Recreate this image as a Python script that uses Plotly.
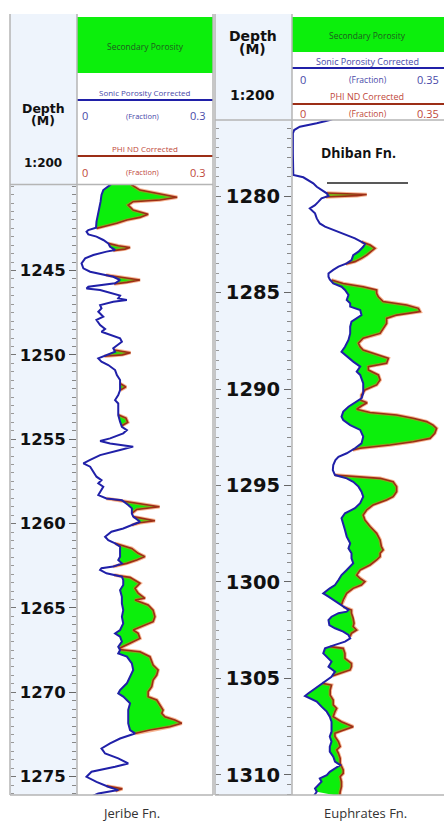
import plotly.graph_objects as go

W, H = 444, 823
def X(px): return px / W
def Y(py): return 1 - py / H

# ---------------- DATA ----------------
# Jeribe Fn. (left track)
jer_sonic_depth = [1239.80, 1239.93, 1240.23, 1240.52, 1240.92, 1241.31, 1241.71, 1242.10, 1242.46, 1242.60,
    1242.70, 1242.86, 1242.99, 1243.19, 1243.39, 1243.59, 1243.78, 1243.88, 1244.08, 1244.28,
    1244.58, 1244.87, 1245.07, 1245.23, 1245.37, 1245.56, 1245.76, 1245.96, 1246.06, 1246.16,
    1246.35, 1246.49, 1246.65, 1246.75, 1246.85, 1247.05, 1247.24, 1247.44, 1247.74, 1247.93,
    1248.23, 1248.47, 1248.63, 1248.82, 1249.02, 1249.22, 1249.42, 1249.61, 1249.81, 1250.01,
    1250.21, 1250.40, 1250.60, 1250.90, 1251.20, 1251.49, 1251.79, 1252.09, 1252.38, 1252.68,
    1252.88, 1253.17, 1253.57, 1253.96, 1254.26, 1254.46, 1254.65, 1254.95, 1255.11, 1255.25,
    1255.44, 1255.64, 1255.94, 1256.23, 1256.43, 1256.63, 1256.92, 1257.22, 1257.42, 1257.62,
    1257.82, 1258.01, 1258.31, 1258.51, 1258.61, 1258.90, 1259.10, 1259.40, 1259.59, 1259.89,
    1260.09, 1260.29, 1260.48, 1260.78, 1260.98, 1261.17, 1261.37, 1261.67, 1261.96, 1262.16,
    1262.36, 1262.55, 1262.65, 1262.75, 1262.95, 1263.15, 1263.35, 1263.64, 1263.94, 1264.34,
    1264.73, 1265.13, 1265.52, 1265.92, 1266.31, 1266.51, 1266.71, 1267.00, 1267.30, 1267.50,
    1267.70, 1267.89, 1268.29, 1268.68, 1269.08, 1269.47, 1269.87, 1270.07, 1270.26, 1270.66,
    1271.05, 1271.45, 1271.85, 1272.24, 1272.44, 1272.74, 1273.03, 1273.33, 1273.63, 1273.92,
    1274.22, 1274.42, 1274.71, 1275.01, 1275.31, 1275.60, 1275.80, 1276.00, 1276.20]
jer_sonic_value = [0.078, 0.073, 0.058, 0.054, 0.052, 0.049, 0.045, 0.043, 0.042, 0.025,
    0.021, 0.025, 0.043, 0.058, 0.069, 0.073, 0.084, 0.065, 0.036, 0.018,
    0.010, 0.014, 0.029, 0.058, 0.080, 0.095, 0.084, 0.025, 0.021, 0.051,
    0.080, 0.095, 0.091, 0.110, 0.080, 0.051, 0.054, 0.047, 0.058, 0.043,
    0.051, 0.062, 0.054, 0.076, 0.095, 0.099, 0.088, 0.080, 0.084, 0.065,
    0.047, 0.054, 0.069, 0.084, 0.088, 0.095, 0.095, 0.095, 0.091, 0.084,
    0.091, 0.091, 0.091, 0.095, 0.099, 0.110, 0.102, 0.073, 0.051, 0.073,
    0.124, 0.095, 0.051, 0.029, 0.014, 0.029, 0.036, 0.043, 0.054, 0.047,
    0.058, 0.054, 0.047, 0.065, 0.099, 0.113, 0.121, 0.121, 0.124, 0.139,
    0.121, 0.102, 0.076, 0.062, 0.069, 0.084, 0.095, 0.095, 0.095, 0.091,
    0.099, 0.080, 0.054, 0.051, 0.065, 0.099, 0.102, 0.102, 0.095, 0.099,
    0.099, 0.102, 0.099, 0.102, 0.095, 0.084, 0.095, 0.099, 0.091, 0.095,
    0.091, 0.110, 0.121, 0.124, 0.117, 0.110, 0.095, 0.091, 0.102, 0.117,
    0.113, 0.113, 0.113, 0.117, 0.128, 0.095, 0.073, 0.054, 0.062, 0.091,
    0.113, 0.084, 0.032, 0.021, 0.043, 0.069, 0.091, 0.047, 0.030]
# PHI ND (red) only where it departs from the sonic curve; None separates intervals
jer_phind_depth = [1239.80, 1239.93, 1240.23, 1240.52, 1240.66, 1240.82, 1240.92, 1241.12, 1241.41, 1241.67,
    1241.85, 1242.01, 1242.20, 1242.40, 1242.50, None,
    1243.39, 1243.53, 1243.63, 1243.73, 1243.82, None,
    1245.27, 1245.43, 1245.56, 1245.70, 1245.80, None,
    1249.71, 1249.87, 1250.00, 1250.08, None,
    1251.70, 1251.90, 1252.10, None,
    1253.55, 1253.75, 1254.00, 1254.20, None,
    1258.51, 1258.80, 1259.00, 1259.16, 1259.40, None,
    1259.59, 1259.83, 1259.95, 1260.09, None,
    1261.17, 1261.47, 1261.76, 1261.96, 1262.16, 1262.36, 1262.55, None,
    1263.05, 1263.19, 1263.54, 1263.84, 1264.13, 1264.43, 1264.53, 1264.83, 1265.13, 1265.52,
    1265.82, 1266.02, 1266.31, 1266.51, 1266.81, 1267.10, 1267.40, None,
    1267.46, 1267.60, 1267.89, 1268.19, 1268.39, 1268.68, 1268.98, 1269.28, 1269.67, 1269.97,
    1270.26, 1270.46, 1270.76, 1271.05, 1271.25, 1271.45, 1271.64, 1271.84, 1272.04, 1272.24,
    1272.44, None,
    1275.55, 1275.72, 1275.85]
jer_phind_value = [0.118, 0.121, 0.139, 0.198, 0.221, 0.183, 0.124, 0.113, 0.124, 0.157,
    0.139, 0.110, 0.088, 0.058, 0.043, None,
    0.069, 0.091, 0.117, 0.106, 0.080, None,
    0.064, 0.110, 0.139, 0.110, 0.082, None,
    0.082, 0.118, 0.100, 0.060, None,
    0.095, 0.108, 0.095, None,
    0.091, 0.108, 0.112, 0.099, None,
    0.065, 0.139, 0.182, 0.132, 0.121, None,
    0.124, 0.172, 0.139, 0.121, None,
    0.084, 0.121, 0.135, 0.150, 0.132, 0.110, 0.080, None,
    0.082, 0.117, 0.139, 0.128, 0.135, 0.150, 0.128, 0.157, 0.168, 0.172,
    0.168, 0.150, 0.124, 0.135, 0.139, 0.117, 0.093, None,
    0.094, 0.139, 0.161, 0.165, 0.168, 0.179, 0.176, 0.168, 0.165, 0.157,
    0.157, 0.176, 0.183, 0.190, 0.187, 0.194, 0.216, 0.231, 0.205, 0.161,
    0.128, None,
    0.065, 0.100, 0.085]

# Euphrates Fn. (right track)
eup_sonic_depth = [1276.00, 1276.06, 1276.23, 1276.41, 1276.58, 1276.75, 1277.79, 1278.91, 1279.03, 1279.17,
    1279.34, 1279.52, 1279.69, 1279.86, 1280.00, 1280.12, 1280.29, 1280.47, 1280.64, 1280.73,
    1280.90, 1281.16, 1281.42, 1281.59, 1281.85, 1282.02, 1282.19, 1282.37, 1282.49, 1282.63,
    1282.88, 1283.06, 1283.32, 1283.49, 1283.66, 1283.83, 1284.01, 1284.18, 1284.32, 1284.53,
    1284.70, 1284.87, 1285.13, 1285.39, 1285.56, 1285.73, 1285.91, 1286.17, 1286.34, 1286.51,
    1286.77, 1287.12, 1287.46, 1287.81, 1288.07, 1288.32, 1288.58, 1288.84, 1289.10, 1289.27,
    1289.45, 1289.71, 1289.97, 1290.22, 1290.48, 1290.71, 1290.92, 1291.17, 1291.43, 1291.61,
    1291.87, 1292.12, 1292.47, 1292.82, 1293.07, 1293.33, 1293.51, 1293.68, 1293.94, 1294.20,
    1294.46, 1294.63, 1294.81, 1295.06, 1295.32, 1295.58, 1295.92, 1296.18, 1296.44, 1296.70,
    1296.96, 1297.31, 1297.65, 1298.00, 1298.26, 1298.51, 1298.77, 1299.03, 1299.38, 1299.64,
    1299.90, 1300.16, 1300.33, 1300.59, 1300.76, 1300.93, 1301.11, 1301.28, 1301.45, 1301.54,
    1301.62, 1301.80, 1301.97, 1302.23, 1302.40, 1302.57, 1302.75, 1302.92, 1303.09, 1303.26,
    1303.44, 1303.70, 1303.96, 1304.13, 1304.39, 1304.65, 1304.91, 1305.08, 1305.34, 1305.60,
    1305.77, 1305.91, 1306.03, 1306.20, 1306.46, 1306.72, 1306.98, 1307.24, 1307.50, 1307.76,
    1308.01, 1308.27, 1308.53, 1308.79, 1309.05, 1309.31, 1309.49, 1309.66, 1309.84, 1310.01,
    1310.18, 1310.35, 1310.53, 1310.70, 1310.87, 1311.10]
eup_sonic_value = [0.095, 0.087, 0.057, 0.018, 0.005, 0.002, 0.002, 0.003, 0.026, 0.038,
    0.049, 0.057, 0.068, 0.080, 0.084, 0.068, 0.061, 0.053, 0.041, 0.045,
    0.053, 0.057, 0.064, 0.076, 0.107, 0.126, 0.145, 0.160, 0.168, 0.164,
    0.153, 0.141, 0.137, 0.126, 0.107, 0.095, 0.084, 0.084, 0.087, 0.095,
    0.114, 0.122, 0.130, 0.126, 0.134, 0.134, 0.157, 0.160, 0.149, 0.137,
    0.134, 0.134, 0.130, 0.122, 0.114, 0.126, 0.141, 0.157, 0.149, 0.157,
    0.160, 0.164, 0.164, 0.164, 0.160, 0.145, 0.130, 0.118, 0.114, 0.118,
    0.134, 0.157, 0.164, 0.160, 0.145, 0.126, 0.107, 0.100, 0.095, 0.094,
    0.099, 0.126, 0.141, 0.153, 0.160, 0.164, 0.157, 0.145, 0.122, 0.114,
    0.118, 0.122, 0.126, 0.134, 0.130, 0.137, 0.137, 0.141, 0.126, 0.114,
    0.107, 0.099, 0.087, 0.072, 0.084, 0.095, 0.107, 0.118, 0.130, 0.126,
    0.107, 0.091, 0.084, 0.086, 0.099, 0.118, 0.130, 0.134, 0.122, 0.099,
    0.076, 0.072, 0.084, 0.091, 0.084, 0.099, 0.091, 0.080, 0.064, 0.049,
    0.038, 0.030, 0.041, 0.057, 0.068, 0.080, 0.087, 0.091, 0.091, 0.091,
    0.087, 0.091, 0.087, 0.087, 0.095, 0.099, 0.111, 0.099, 0.087, 0.080,
    0.064, 0.068, 0.061, 0.053, 0.057, 0.050]
eup_phind_depth = [1279.84, 1279.92, 1279.98, 1280.05, None,
    1282.37, 1282.54, 1282.71, 1282.88, 1283.06, 1283.23, 1283.40, 1283.52, None,
    1284.35, 1284.53, 1284.70, 1284.87, 1285.04, 1285.22, 1285.47, 1285.65, 1285.82, 1285.99,
    1286.17, 1286.34, 1286.60, 1286.86, 1287.12, 1287.37, 1287.63, 1287.81, 1287.98, 1288.15,
    1288.41, 1288.67, 1288.84, 1289.02, 1289.27, 1289.53, 1289.79, 1290.05, 1290.31, 1290.48, None,
    1290.57, 1290.71, 1290.88, 1291.05, 1291.22, 1291.35, 1291.52, 1291.69, 1291.87, 1292.04,
    1292.30, 1292.56, 1292.73, 1292.90, 1293.07, 1293.16, None,
    1294.46, 1294.54, 1294.63, 1294.81, 1295.06, 1295.32, 1295.58, 1295.75, 1296.01, 1296.27,
    1296.53, 1296.79, 1297.13, 1297.48, 1297.82, 1298.17, 1298.34, 1298.51, 1298.69, 1298.86,
    1299.12, 1299.38, 1299.64, 1299.81, 1299.98, 1300.16, 1300.33, 1300.59, 1300.93, 1301.19, None,
    1301.28, 1301.45, 1301.62, 1301.88, 1302.14, 1302.31, 1302.49, 1302.66, 1302.83, None,
    1303.35, 1303.44, 1303.70, 1303.96, 1304.22, 1304.39, 1304.56, 1304.73, 1304.87, None,
    1305.25, 1305.34, 1305.60, 1305.86, 1306.12, 1306.37, 1306.55, 1306.72, 1306.98, 1307.24,
    1307.50, 1307.67, 1307.84, 1308.01, 1308.27, 1308.53, 1308.70, 1308.88, 1309.14, 1309.40,
    1309.57, 1309.74, 1309.92, 1310.09, 1310.35, 1310.61, 1310.87, 1311.10]
eup_phind_value = [0.080, 0.172, 0.150, 0.078, None,
    0.160, 0.180, 0.191, 0.183, 0.172, 0.160, 0.145, 0.124, None,
    0.091, 0.118, 0.164, 0.195, 0.195, 0.199, 0.210, 0.264, 0.291, 0.295,
    0.241, 0.218, 0.218, 0.210, 0.203, 0.164, 0.153, 0.157, 0.164, 0.187,
    0.222, 0.218, 0.176, 0.176, 0.199, 0.203, 0.195, 0.168, 0.160, 0.160, None,
    0.157, 0.173, 0.160, 0.149, 0.180, 0.241, 0.279, 0.310, 0.325, 0.333,
    0.329, 0.318, 0.279, 0.226, 0.157, 0.140, None,
    0.099, 0.149, 0.203, 0.233, 0.241, 0.241, 0.233, 0.218, 0.187, 0.172,
    0.164, 0.168, 0.180, 0.195, 0.203, 0.206, 0.210, 0.203, 0.203, 0.195,
    0.180, 0.157, 0.149, 0.157, 0.168, 0.160, 0.141, 0.126, 0.118, 0.114, None,
    0.118, 0.137, 0.137, 0.141, 0.143, 0.141, 0.149, 0.137, 0.134, None,
    0.088, 0.118, 0.122, 0.122, 0.137, 0.137, 0.134, 0.110, 0.093, None,
    0.069, 0.091, 0.088, 0.088, 0.095, 0.095, 0.103, 0.099, 0.095, 0.114,
    0.141, 0.118, 0.099, 0.099, 0.107, 0.111, 0.103, 0.107, 0.111, 0.111,
    0.114, 0.118, 0.118, 0.111, 0.114, 0.114, 0.111, 0.110]

jer_ticks = [1245, 1250, 1255, 1260, 1265, 1270, 1275]
eup_ticks = [1280, 1285, 1290, 1295, 1300, 1305, 1310]
jer_scale_max = 0.3
eup_scale_max = 0.35

# ---------------- STYLE ----------------
GREEN = "#0cef0c"
RED = "#9c2e16"
HALO = "rgba(240,110,40,0.5)"
BLUE = "#2020a8"
GRID = "#b5b5b5"
DEPTHBG = "#eef4fc"

fig = go.Figure()

def segments(depths, values):
    segs, cur = [], []
    for d, v in zip(depths, values):
        if d is None:
            if cur:
                segs.append(cur)
            cur = []
        else:
            cur.append((d, v))
    if cur:
        segs.append(cur)
    return segs

def add_track(sd, sv, pd, pv, xa, ya):
    for seg in segments(pd, pv):
        d0, d1 = seg[0][0], seg[-1][0]
        inner = [(d, v) for d, v in zip(sd, sv) if d0 < d < d1]
        poly = seg + inner[::-1]
        fig.add_trace(go.Scatter(x=[p[1] for p in poly], y=[p[0] for p in poly],
                                 fill="toself", fillcolor=GREEN, mode="lines",
                                 line=dict(width=0), xaxis=xa, yaxis=ya,
                                 showlegend=False, hoverinfo="skip"))
    fig.add_trace(go.Scatter(x=pv, y=pd, mode="lines", line=dict(color=HALO, width=3.5),
                             xaxis=xa, yaxis=ya, showlegend=False, connectgaps=False, hoverinfo="skip"))
    fig.add_trace(go.Scatter(x=pv, y=pd, mode="lines", line=dict(color=RED, width=1.6),
                             xaxis=xa, yaxis=ya, showlegend=False, connectgaps=False))
    fig.add_trace(go.Scatter(x=sv, y=sd, mode="lines", line=dict(color=BLUE, width=2),
                             xaxis=xa, yaxis=ya, showlegend=False))

add_track(jer_sonic_depth, jer_sonic_value, jer_phind_depth, jer_phind_value, "x", "y")
add_track(eup_sonic_depth, eup_sonic_value, eup_phind_depth, eup_phind_value, "x2", "y2")
# anchors for the secondary (left-edge) tick axes
fig.add_trace(go.Scatter(x=[0], y=[1250], xaxis="x", yaxis="y3", mode="markers",
                         marker=dict(opacity=0), showlegend=False, hoverinfo="skip"))
fig.add_trace(go.Scatter(x=[0], y=[1290], xaxis="x2", yaxis="y4", mode="markers",
                         marker=dict(opacity=0), showlegend=False, hoverinfo="skip"))

L_TOP, R_TOP, BOT = 185, 120, 795
jer_range = [1276.09, 1239.93]
eup_range = [1311.04, 1276.06]

def depth_axis(rng, ticks, size):
    return dict(range=rng, tickmode="array", tickvals=ticks, ticks="outside", ticklen=7,
                tickcolor="#666", tickwidth=1, showgrid=False, zeroline=False, showline=False,
                tickfont=dict(family="DejaVu Sans", size=size, color="#111", weight="bold"),
                minor=dict(tickmode="linear", tick0=ticks[0], dtick=0.5, ticks="outside",
                           ticklen=4, tickcolor="#888", tickwidth=1),
                fixedrange=True)

def edge_axis(rng, ticks, over, pos):
    return dict(range=rng, overlaying=over, anchor="free", position=pos, side="right",
                tickmode="array", tickvals=ticks, ticks="outside", ticklen=5, tickcolor="#777",
                showticklabels=False, showgrid=False, zeroline=False, showline=False,
                minor=dict(tickmode="linear", tick0=ticks[0], dtick=0.5, ticks="outside",
                           ticklen=3, tickcolor="#999", tickwidth=1))

fig.update_layout(
    width=W, height=H, margin=dict(l=0, r=0, t=0, b=0),
    paper_bgcolor="white", plot_bgcolor="rgba(0,0,0,0)", showlegend=False,
    xaxis=dict(domain=[X(77), X(213)], range=[0, jer_scale_max], visible=False, anchor="y", fixedrange=True),
    yaxis=dict(domain=[Y(BOT), Y(L_TOP)], anchor="x", **depth_axis(jer_range, jer_ticks, 16.5)),
    xaxis2=dict(domain=[X(292), 1.0], range=[0, eup_scale_max], visible=False, anchor="y2", fixedrange=True),
    yaxis2=dict(domain=[Y(BOT), Y(R_TOP)], anchor="x2", **depth_axis(eup_range, eup_ticks, 19.5)),
    yaxis3=edge_axis(jer_range, jer_ticks, "y", X(10)),
    yaxis4=edge_axis(eup_range, eup_ticks, "y2", X(215)),
)

shapes = []
def rect(x0, y0, x1, y1, fill, layer="below"):
    shapes.append(dict(type="rect", xref="paper", yref="paper", x0=X(x0), x1=X(x1), y0=Y(y1), y1=Y(y0),
                       fillcolor=fill, line=dict(width=0), layer=layer))
def line(x0, y0, x1, y1, color=GRID, width=1.5):
    shapes.append(dict(type="line", xref="paper", yref="paper", x0=X(x0), x1=X(x1), y0=Y(y0), y1=Y(y1),
                       line=dict(color=color, width=width), layer="above"))

# depth columns background
rect(10, 14, 77, BOT, DEPTHBG)
rect(215, 14, 292, BOT, DEPTHBG)
# header green boxes
rect(77, 17, 213, 73, GREEN)
rect(292, 17, 444, 52, GREEN)
# curve header lines
line(77, 100, 213, 100, BLUE, 2)
line(77, 156, 213, 156, RED, 2)
line(292, 68, 444, 68, BLUE, 2)
line(292, 104, 444, 104, RED, 2)
# borders
for xx in (10, 77, 213):
    line(xx, 14, xx, BOT)
for xx in (215, 292):
    line(xx, 14, xx, BOT)
line(10, 184.5, 213, 184.5)
line(215, 120, 444, 120)
line(10, BOT, 213, BOT)
line(215, BOT, 444, BOT)
# Dhiban underline
line(327, 183, 408, 183, "#222", 1.5)
fig.update_layout(shapes=shapes)

ann = []
def text(x, y, s, size, color="#111", family="Open Sans", weight="normal", xanchor="center"):
    ann.append(dict(x=X(x), y=Y(y), xref="paper", yref="paper", text=s, showarrow=False,
                    xanchor=xanchor, yanchor="middle",
                    font=dict(family=family, size=size, color=color, weight=weight)))

HDR_G = "#1f5a1f"
HDR_B = "#4848a8"
HDR_R = "#c0483a"
# left header
text(145, 47, "Secondary Porosity", 8.5, HDR_G)
text(145, 92, "Sonic Porosity Corrected", 8, HDR_B)
text(85, 116, "0", 11, HDR_B)
text(142, 116, "(Fraction)", 7.5, HDR_B)
text(207, 116, "0.3", 11, HDR_B, xanchor="right")
text(145, 148, "PHI ND Corrected", 8, HDR_R)
text(85, 172, "0", 11, HDR_R)
text(142, 172, "(Fraction)", 7.5, HDR_R)
text(207, 172, "0.3", 11, HDR_R, xanchor="right")
text(43, 109, "Depth", 12.5, "#111", "DejaVu Sans", "bold")
text(43, 121, "(M)", 12.5, "#111", "DejaVu Sans", "bold")
text(43, 163, "1:200", 12, "#111", "DejaVu Sans", "bold")
# right header
text(367, 35, "Secondary Porosity", 8.5, HDR_G)
text(367, 61, "Sonic Porosity Corrected", 9, HDR_B)
text(303, 79, "0", 11, HDR_B)
text(368, 79, "(Fraction)", 8.5, HDR_B)
text(441, 79, "0.35", 11, HDR_B, xanchor="right")
text(367, 97, "PHI ND Corrected", 9, HDR_R)
text(303, 113, "0", 11, HDR_R)
text(368, 113, "(Fraction)", 8.5, HDR_R)
text(441, 113, "0.35", 11, HDR_R, xanchor="right")
text(253, 36, "Depth", 14, "#111", "DejaVu Sans", "bold")
text(253, 49, "(M)", 14, "#111", "DejaVu Sans", "bold")
text(253, 95, "1:200", 14, "#111", "DejaVu Sans", "bold")
# formation labels
text(358, 153, "Dhiban Fn.", 14, "#111", "Open Sans", "bold")
text(131, 813, "Jeribe Fn.", 13, "#333")
text(365, 813, "Euphrates Fn.", 13, "#333")
fig.update_layout(annotations=ann)

fig.write_html("out.html", config={"displayModeBar": False},
               post_script="document.body.style.margin='0';document.body.style.padding='0';"
                           "document.documentElement.style.overflow='hidden';")
